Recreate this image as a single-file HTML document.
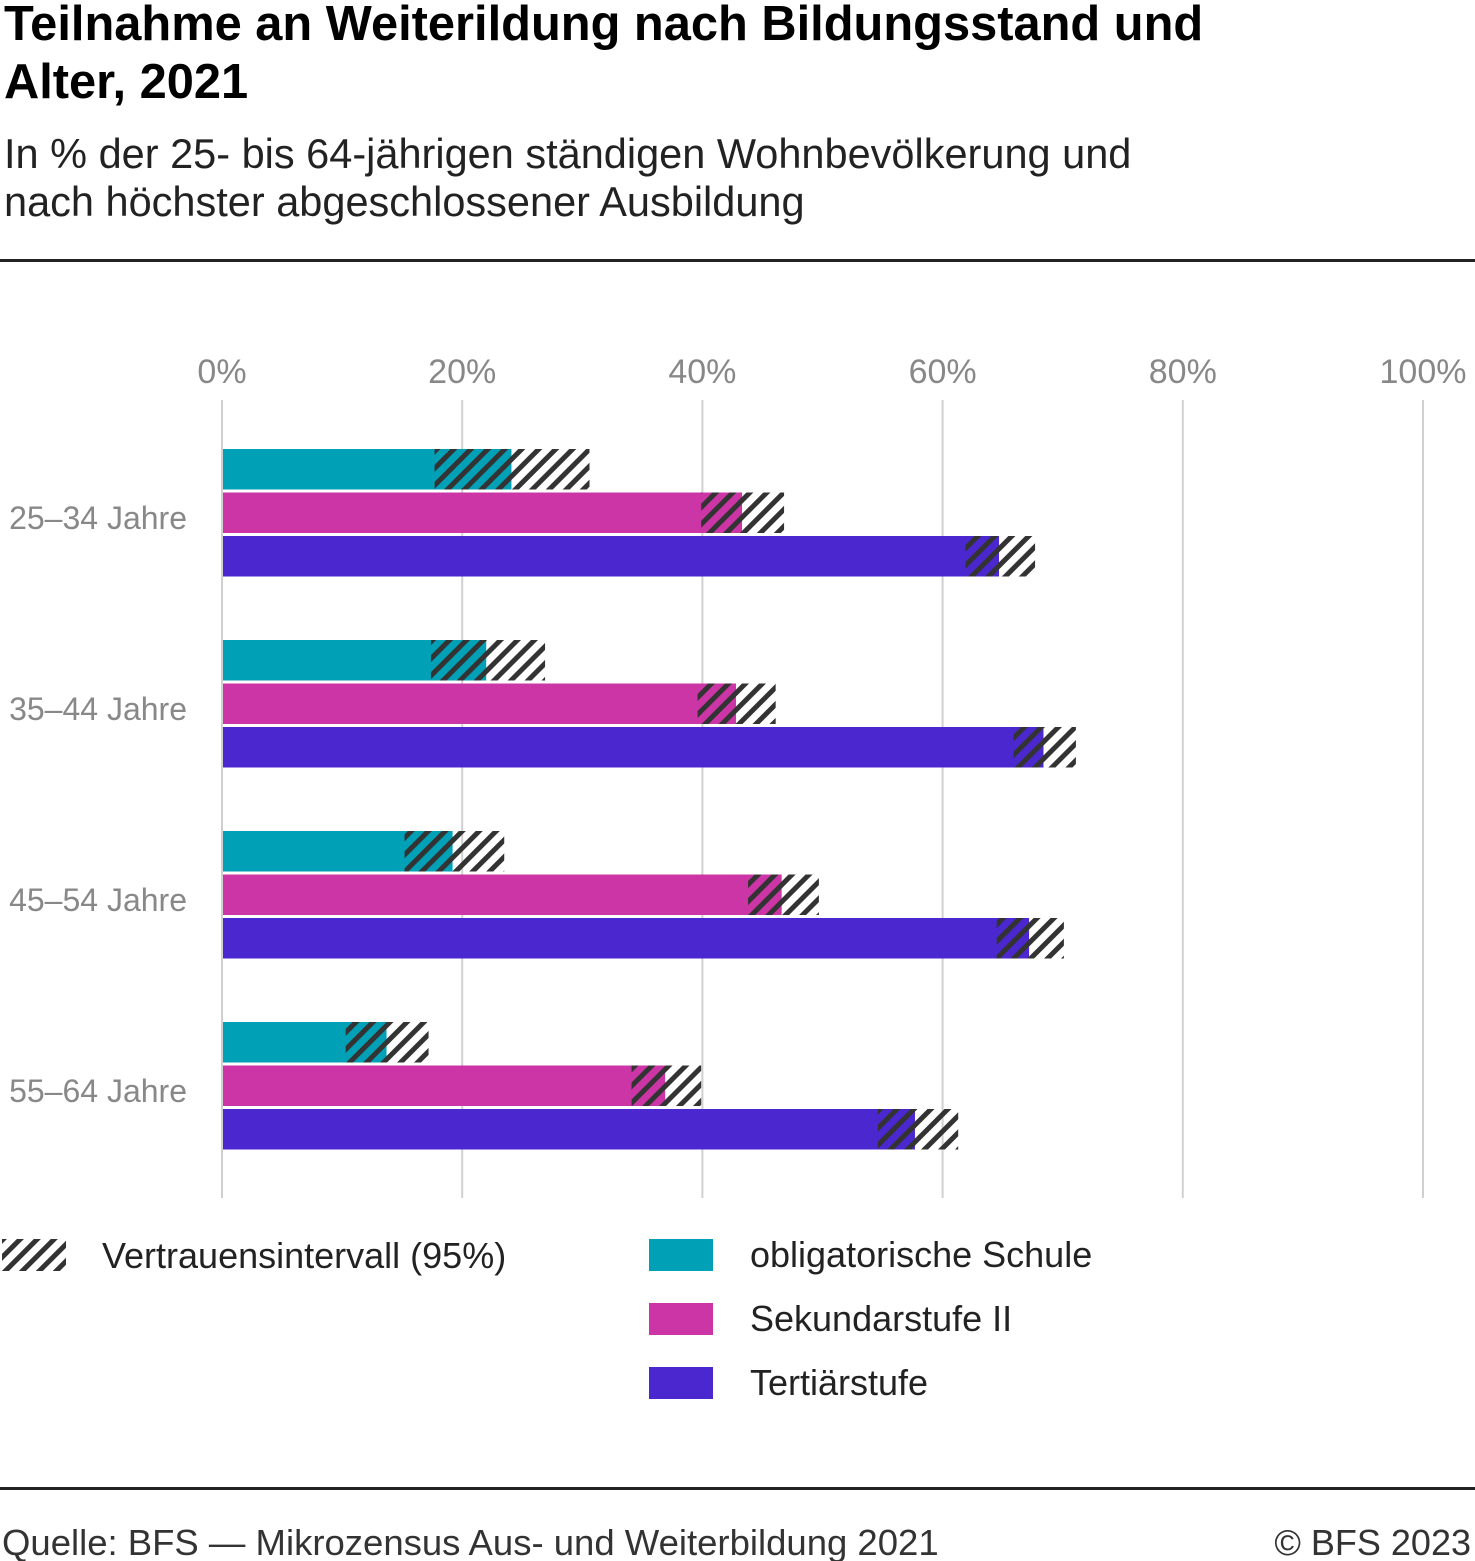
<!DOCTYPE html>
<html><head><meta charset="utf-8">
<style>
body{margin:0;background:#fff;font-family:"Liberation Sans",sans-serif;}
#wrap{position:relative;width:1475px;height:1561px;overflow:hidden;}
.t{position:absolute;white-space:nowrap;}
</style></head>
<body>
<div id="wrap">
<div class="t" style="left:4px;top:-5px;font-size:48.8px;font-weight:bold;line-height:58px;color:#000;">Teilnahme an Weiterildung nach Bildungsstand und<br>Alter, 2021</div>
<div class="t" style="left:4px;top:130px;font-size:41.5px;line-height:48px;color:#222;">In % der 25- bis 64-jährigen ständigen Wohnbevölkerung und<br>nach höchster abgeschlossener Ausbildung</div>
<div style="position:absolute;left:0;top:259px;width:1475px;height:3px;background:#222;"></div>
<div style="position:absolute;left:0;top:1487px;width:1475px;height:3px;background:#222;"></div>
<div class="t" style="left:2px;top:1522px;font-size:36.5px;color:#333;">Quelle: BFS — Mikrozensus Aus- und Weiterbildung 2021</div>
<div class="t" style="right:4px;top:1522px;font-size:36px;color:#333;">© BFS 2023</div>
<svg id="chart" width="1475" height="1561" style="position:absolute;left:0;top:0;">
<defs>
<pattern id="hatch" patternUnits="userSpaceOnUse" width="12" height="12" patternTransform="rotate(45)">
<rect x="0" y="0" width="5" height="12" fill="#333"/>
</pattern>
</defs>
<g id="grid"></g><g id="bars"></g><g id="legend"></g>
</svg>
</div>
<script>
const categories=["25–34 Jahre","35–44 Jahre","45–54 Jahre","55–64 Jahre"];
const seriesNames=["obligatorische Schule","Sekundarstufe II","Tertiärstufe"];
const seriesColors=["#00a0b7","#cc35a5","#4b27d0"];
const valObl=[24.1,22.0,19.2,13.7];
const loObl=[17.7,17.4,15.2,10.3];
const hiObl=[30.6,26.9,23.5,17.2];
const valSek=[43.3,42.8,46.6,36.9];
const loSek=[39.9,39.6,43.8,34.1];
const hiSek=[46.8,46.1,49.7,39.9];
const valTer=[64.7,68.4,67.2,57.7];
const loTer=[61.9,65.9,64.5,54.6];
const hiTer=[67.7,71.1,70.1,61.3];
const ticks=[0,20,40,60,80,100];
const tickLabels=["0%","20%","40%","60%","80%","100%"];

const NS="http://www.w3.org/2000/svg";
const x=v=>222+v*12.01;
const groupY=i=>449+i*191;
const barY=(i,s)=>groupY(i)+s*43.5;
const BH=40.5;
function mk(tag,attrs,parent){const e=document.createElementNS(NS,tag);for(const k in attrs)e.setAttribute(k,attrs[k]);parent.appendChild(e);return e;}
const grid=document.getElementById('grid'),bars=document.getElementById('bars'),leg=document.getElementById('legend');
ticks.forEach((t,i)=>{
  const l=mk('line',{x1:x(t),x2:x(t),y1:400,y2:1198,stroke:'#d0d0d0','stroke-width':2},grid);
  
  
  const tx=mk('text',{x:x(t),y:383,'text-anchor':'middle','font-size':34,fill:'#888','font-family':'Liberation Sans, sans-serif'},grid);
  tx.textContent=tickLabels[i];
  
  
});
const vals=[valObl,valSek,valTer],los=[loObl,loSek,loTer],his=[hiObl,hiSek,hiTer];
categories.forEach((c,i)=>{
  const lab=mk('text',{x:187,y:groupY(i)+80,'text-anchor':'end','font-size':32,fill:'#888','font-family':'Liberation Sans, sans-serif'},bars);
  lab.textContent=c;
  
  
  for(let s=0;s<3;s++){
    const r=mk('rect',{x:x(0)+1,y:barY(i,s),width:x(vals[s][i])-x(0)-1,height:BH,fill:seriesColors[s]},bars);
    
    
    const h=mk('rect',{x:x(los[s][i]),y:barY(i,s),width:x(his[s][i])-x(los[s][i]),height:BH,fill:'url(#hatch)'},bars);
    
    
  }
});
const ci=mk('rect',{x:2,y:1239,width:64,height:32,fill:'url(#hatch)'},leg);


const cit=mk('text',{x:102,y:1268,'font-size':36,fill:'#222','font-family':'Liberation Sans, sans-serif'},leg);
cit.textContent="Vertrauensintervall (95%)";


seriesNames.forEach((n,s)=>{
  const r=mk('rect',{x:649,y:1239+s*64,width:64,height:32,fill:seriesColors[s]},leg);
  
  
  const t=mk('text',{x:750,y:1267+s*64,'font-size':36,fill:'#222','font-family':'Liberation Sans, sans-serif'},leg);
  t.textContent=n;
  
  
});
</script>
</body></html>
